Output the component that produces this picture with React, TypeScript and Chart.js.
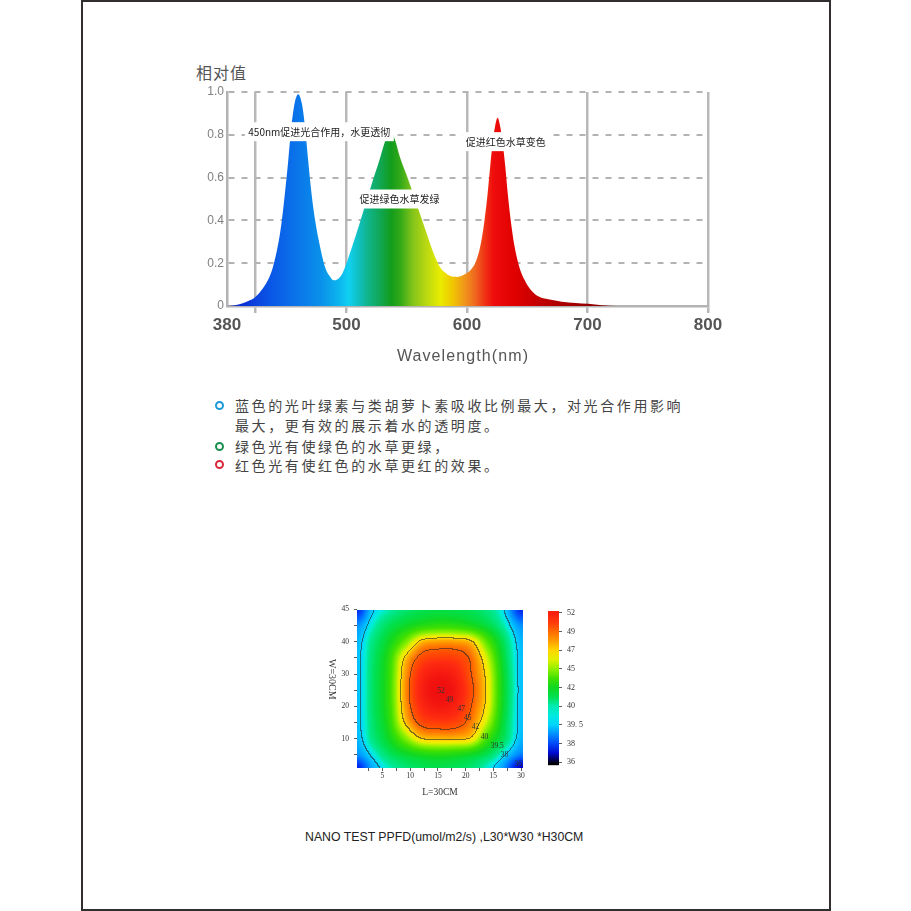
import React, { useEffect, useRef } from 'react';
import { Chart, registerables, LinearScale } from 'chart.js';

Chart.register(...registerables);

// ---------------- Spectrum data ----------------
const wavelengths = [380, 388, 395, 402, 407, 414, 421, 426, 431, 434.5, 438, 441.5, 444.7, 448, 451.5, 455, 458.3, 461.5, 465, 468.5, 472, 478.6, 483, 487.2, 491, 495.6, 500, 504.8, 510, 516, 522, 527.2, 532, 536, 540, 544.1, 550, 555.3, 561, 566.5, 572, 577.8, 582, 586.1, 591.8, 597, 603, 607.5, 611.4, 614.5, 617, 619.2, 621.2, 623.3, 625.4, 627.5, 629.6, 631.8, 633.9, 636.5, 639.4, 643.5, 647.9, 653, 659.1, 667.5, 678.7, 690, 700.5, 712, 724, 800];
const intensity = [0, 0.003, 0.012, 0.025, 0.036, 0.07, 0.12, 0.18, 0.28, 0.38, 0.52, 0.68, 0.84, 0.95, 0.99, 0.95, 0.84, 0.68, 0.52, 0.4, 0.31, 0.18, 0.14, 0.12, 0.125, 0.15, 0.2, 0.28, 0.37, 0.48, 0.59, 0.68, 0.77, 0.82, 0.78, 0.7, 0.61, 0.525, 0.43, 0.34, 0.25, 0.18, 0.155, 0.14, 0.136, 0.145, 0.168, 0.21, 0.29, 0.4, 0.52, 0.65, 0.76, 0.84, 0.88, 0.84, 0.76, 0.65, 0.52, 0.39, 0.28, 0.18, 0.12, 0.075, 0.045, 0.031, 0.02, 0.014, 0.01, 0.004, 0, 0];
const xTickValues = [380, 408, 500, 600, 700, 800];
const xTickLabels = ['380', '', '500', '600', '700', '800'];
const yTickValues = [0, 0.2, 0.4, 0.6, 0.8, 1.0];
const yTickLabels = ['0', '0.2', '0.4', '0.6', '0.8', '1.0'];
const peakNotes = ['450nm促进光合作用，水更透彻', '促进绿色水草发绿', '促进红色水草变色'];
const peakNoteWavelengths = [472.7, 544, 632.2];
const peakNoteValues = [0.8145, 0.5, 0.768];

// spectrum fill colour stops (style)
const spectrumStopWavelengths = [380, 400, 425, 450, 475, 492, 502, 510, 518, 527, 537, 545, 555, 566, 578, 588, 597, 606, 614, 622, 640, 660, 690, 730];
const spectrumStopColors = ['#0a22c8', '#0a36d8', '#0a58e6', '#0a74ea', '#0a92ea', '#0cb4ee', '#10d0f2', '#10c0c0', '#10b488', '#10a85a', '#139c1c', '#34aa18', '#84c41a', '#b8d812', '#eaec00', '#f0c600', '#f09a1a', '#f06c20', '#f03816', '#ef0c0c', '#e00000', '#c20000', '#a00000', '#800000'];

// ---------------- Heatmap data ----------------
const heatX = [0.5, 3, 6, 9, 12, 15, 18, 21, 24, 27, 30];
const heatY = [50, 45, 40, 35, 30, 25, 20, 15, 10, 5, 1];
const heatRow50 = [37.6, 39.3, 40.0, 40.6, 41.0, 41.2, 41.1, 40.9, 40.4, 39.5, 37.6];
const heatRow45 = [38.8, 39.8, 40.9, 41.8, 42.6, 43.0, 42.9, 42.3, 41.3, 40.0, 38.8];
const heatRow40 = [39.2, 40.3, 41.8, 44.3, 47.3, 47.9, 47.9, 47.2, 43.8, 40.8, 39.2];
const heatRow35 = [39.3, 40.5, 42.6, 47.0, 49.8, 50.4, 50.3, 49.0, 45.6, 41.2, 39.3];
const heatRow30 = [39.3, 40.6, 42.8, 47.8, 51.2, 52.4, 51.8, 49.4, 46.4, 41.5, 39.3];
const heatRow25 = [39.3, 40.6, 42.9, 48.0, 51.8, 53.2, 52.5, 49.8, 46.6, 41.6, 39.3];
const heatRow20 = [39.3, 40.6, 42.8, 47.8, 51.2, 52.4, 51.8, 49.4, 46.4, 41.5, 39.3];
const heatRow15 = [39.3, 40.5, 42.5, 47.0, 49.8, 50.4, 50.2, 48.6, 45.4, 41.2, 39.3];
const heatRow10 = [39.2, 40.3, 41.8, 44.5, 47.0, 47.4, 47.4, 46.8, 43.3, 40.8, 39.2];
const heatRow5 = [38.8, 39.6, 40.7, 41.6, 42.3, 42.6, 42.4, 41.9, 40.9, 39.6, 38.6];
const heatRow1 = [37.5, 39.0, 39.9, 40.5, 40.9, 41.1, 40.9, 40.6, 39.8, 38.8, 36.8];
const heatValues = [heatRow50, heatRow45, heatRow40, heatRow35, heatRow30, heatRow25, heatRow20, heatRow15, heatRow10, heatRow5, heatRow1];
const heatXTicks = [2.5, 5, 7.5, 10, 12.5, 15, 17.5, 20, 22.5, 25, 27.5, 30];
const heatXLabelValues = [5, 10, 15, 20, 25, 30];
const heatXLabels = ['5', '10', '15', '20', '15', '30'];
const heatYTicks = [5, 10, 15, 20, 25, 30, 35, 40, 45, 50];
const heatYLabelValues = [10, 20, 30, 40, 50];
const heatYLabels = ['10', '20', '30', '40', '45'];
const contourLevels = [39.5, 47, 49.3];
const contourLabels = ['52', '49', '47', '45', '42', '40', '39.5', '38', '36'];
const contourLabelX = [15.55, 17.1, 19.2, 20.4, 21.8, 23.4, 25.7, 27.0, 29.5];
const contourLabelY = [24.8, 22.0, 19.2, 16.3, 13.5, 10.6, 7.7, 4.9, 2.1];
const colorbarValues = [36, 38, 39.5, 40, 42, 45, 47, 49, 52];
const colorbarLabels = ['36', '38', '39. 5', '40', '42', '45', '47', '49', '52'];

// colour map (style)
const heatStopValues = [35.8, 36.2, 36.8, 37.6, 38.3, 39.0, 39.5, 39.8, 40.2, 41.0, 42.0, 43.5, 45.0, 46.0, 46.8, 47.5, 48.5, 49.5, 51.0, 53.0];
const heatStopColors = ['#000000', '#000040', '#0000c8', '#0028ee', '#0060ff', '#00a4ff', '#00d4ff', '#00eed8', '#00e890', '#00e050', '#10d820', '#40e000', '#90f000', '#e0f000', '#ffe400', '#ffb400', '#ff8400', '#ff5400', '#ff2c10', '#f01010'];

const hexToRgb = (h: string) => [parseInt(h.slice(1, 3), 16), parseInt(h.slice(3, 5), 16), parseInt(h.slice(5, 7), 16)];
const heatStopRgb = heatStopColors.map(hexToRgb);
const colormap = (v: number) => {
  const n = heatStopValues.length;
  if (v <= heatStopValues[0]) return heatStopRgb[0];
  if (v >= heatStopValues[n - 1]) return heatStopRgb[n - 1];
  let i = 0;
  while (i < n - 2 && v > heatStopValues[i + 1]) i++;
  const t = (v - heatStopValues[i]) / (heatStopValues[i + 1] - heatStopValues[i]);
  const a = heatStopRgb[i], b = heatStopRgb[i + 1];
  return [a[0] + (b[0] - a[0]) * t, a[1] + (b[1] - a[1]) * t, a[2] + (b[2] - a[2]) * t];
};
const colormapCss = (v: number) => {
  const c = colormap(v);
  return `rgb(${Math.round(c[0])},${Math.round(c[1])},${Math.round(c[2])})`;
};

// ---------------- Piecewise wavelength scale ----------------
const SPLIT = 500;
const LOW_RATIO = 0.8266;
const warp = (w: number) => (w >= SPLIT ? w : SPLIT - (SPLIT - w) * LOW_RATIO);
const unwarp = (u: number) => (u >= SPLIT ? u : SPLIT - (SPLIT - u) / LOW_RATIO);

class SpectrumScale extends LinearScale {
  static id = 'spectrum';
  getPixelForValue(value: number) {
    const u0 = warp(this.min), u1 = warp(this.max);
    return this.left + ((warp(value) - u0) / (u1 - u0)) * this.width;
  }
  getValueForPixel(pixel: number) {
    const u0 = warp(this.min), u1 = warp(this.max);
    return unwarp(u0 + ((pixel - this.left) / this.width) * (u1 - u0));
  }
}
Chart.register(SpectrumScale);

const peakNotesPlugin = {
  id: 'peakNotes',
  afterDatasetsDraw(chart: any) {
    const { ctx, scales } = chart;
    ctx.save();
    ctx.font = '10px "Noto Sans CJK SC", sans-serif';
    ctx.textAlign = 'center';
    ctx.textBaseline = 'middle';
    peakNotes.forEach((t, i) => {
      const px = scales.x.getPixelForValue(peakNoteWavelengths[i]);
      const py = scales.y.getPixelForValue(peakNoteValues[i]);
      const w = ctx.measureText(t).width + 7;
      ctx.fillStyle = '#ffffff';
      ctx.fillRect(px - w / 2, py - 9.5, w, 19);
      ctx.fillStyle = '#222222';
      ctx.fillText(t, px, py + 0.5);
    });
    ctx.restore();
  },
};

// ---------------- Heatmap helpers ----------------
const toIndex = (arr: number[], v: number) => {
  const n = arr.length;
  for (let i = 0; i < n - 1; i++) {
    const a = arr[i], b = arr[i + 1];
    const asc = b > a;
    const inSeg = asc ? v <= b : v >= b;
    if (inSeg || i === n - 2) {
      const t = Math.max(0, Math.min(1, (v - a) / (b - a)));
      return i + t;
    }
  }
  return n - 1;
};
const cr = (p0: number, p1: number, p2: number, p3: number, t: number) =>
  0.5 * (2 * p1 + (-p0 + p2) * t + (2 * p0 - 5 * p1 + 4 * p2 - p3) * t * t + (-p0 + 3 * p1 - 3 * p2 + p3) * t * t * t);
const sampleHeat = (fx: number, fy: number) => {
  const cols = heatX.length, rows = heatY.length;
  const ci = (k: number) => Math.max(0, Math.min(cols - 1, k));
  const ri = (k: number) => Math.max(0, Math.min(rows - 1, k));
  const i = Math.min(Math.floor(fx), cols - 2), tx = fx - i;
  const j = Math.min(Math.floor(fy), rows - 2), ty = fy - j;
  const rowAt = (r: number) => {
    const row = heatValues[ri(r)];
    return cr(row[ci(i - 1)], row[ci(i)], row[ci(i + 1)], row[ci(i + 2)], tx);
  };
  return cr(rowAt(j - 1), rowAt(j), rowAt(j + 1), rowAt(j + 2), ty);
};

const heatPlugin = {
  id: 'heatField',
  beforeDatasetsDraw(chart: any) {
    const { ctx, chartArea: a, scales } = chart;
    const left = Math.round(a.left), top = Math.round(a.top);
    const W = Math.round(a.right) - left, H = Math.round(a.bottom) - top;
    const vals = new Float32Array(W * H);
    for (let py = 0; py < H; py++) {
      const fy = toIndex(heatY, scales.y.getValueForPixel(top + py + 0.5));
      for (let px = 0; px < W; px++) {
        const fx = toIndex(heatX, scales.x.getValueForPixel(left + px + 0.5));
        vals[py * W + px] = sampleHeat(fx, fy);
      }
    }
    const off = document.createElement('canvas');
    off.width = W;
    off.height = H;
    const octx = off.getContext('2d')!;
    const img = octx.createImageData(W, H);
    for (let py = 0; py < H; py++) {
      for (let px = 0; px < W; px++) {
        const k = py * W + px;
        const v = vals[k];
        let c = colormap(v);
        const vr = px < W - 1 ? vals[k + 1] : v;
        const vd = py < H - 1 ? vals[k + W] : v;
        let line = false;
        for (const L of contourLevels) {
          if ((v - L) * (vr - L) < 0 || (v - L) * (vd - L) < 0) line = true;
        }
        if (line) c = [c[0] * 0.4 + 40 * 0.6, c[1] * 0.4 + 40 * 0.6, c[2] * 0.4 + 40 * 0.6];
        img.data[k * 4] = c[0];
        img.data[k * 4 + 1] = c[1];
        img.data[k * 4 + 2] = c[2];
        img.data[k * 4 + 3] = 255;
      }
    }
    octx.putImageData(img, 0, 0);
    ctx.drawImage(off, left, top);
  },
  afterDatasetsDraw(chart: any) {
    const { ctx, scales } = chart;
    ctx.save();
    ctx.font = '7.5px "Liberation Serif", serif';
    ctx.fillStyle = '#333';
    ctx.textAlign = 'center';
    ctx.textBaseline = 'middle';
    contourLabels.forEach((t, i) => {
      ctx.fillText(t, scales.x.getPixelForValue(contourLabelX[i]), scales.y.getPixelForValue(contourLabelY[i]));
    });
    ctx.restore();
  },
};

const colorbarPlugin = {
  id: 'colorbarFill',
  beforeDatasetsDraw(chart: any) {
    const { ctx, chartArea: a, scales } = chart;
    const span = a.bottom - a.top;
    const pos = (px: number) => Math.max(0, Math.min(1, (a.bottom - px) / span));
    const g = ctx.createLinearGradient(0, a.bottom, 0, a.top);
    g.addColorStop(0, '#000000');
    g.addColorStop(pos(scales.y.getPixelForValue(-0.06)), '#000008');
    colorbarValues.forEach((v, i) => {
      g.addColorStop(pos(scales.y.getPixelForValue(i)), colormapCss(v));
      if (i < colorbarValues.length - 1) {
        g.addColorStop(pos(scales.y.getPixelForValue(i + 0.5)), colormapCss((v + colorbarValues[i + 1]) / 2));
      }
    });
    g.addColorStop(1, colormapCss(colorbarValues[colorbarValues.length - 1]));
    ctx.save();
    ctx.fillStyle = g;
    ctx.fillRect(a.left, a.top, a.right - a.left, span);
    ctx.restore();
  },
};

const serif = '"Liberation Serif", "Times New Roman", serif';

export default function App() {
  const specRef = useRef<HTMLCanvasElement>(null);
  const heatRef = useRef<HTMLCanvasElement>(null);
  const barRef = useRef<HTMLCanvasElement>(null);

  useEffect(() => {
    const spec = new Chart(specRef.current!, {
      type: 'line',
      data: {
        datasets: [
          {
            data: wavelengths.map((w, i) => ({ x: w, y: intensity[i] })),
            fill: 'origin',
            backgroundColor: (c: any) => {
              const chart = c.chart;
              if (!chart.chartArea) return 'rgba(0,0,0,0)';
              const xs = chart.scales.x;
              const p0 = xs.getPixelForValue(380), p1 = xs.getPixelForValue(800);
              const g = chart.ctx.createLinearGradient(p0, 0, p1, 0);
              spectrumStopWavelengths.forEach((w, i) => {
                g.addColorStop((xs.getPixelForValue(w) - p0) / (p1 - p0), spectrumStopColors[i]);
              });
              return g;
            },
            borderColor: 'rgba(0,0,0,0)',
            borderWidth: 0,
            pointRadius: 0,
            cubicInterpolationMode: 'monotone',
          } as any,
        ],
      },
      options: {
        responsive: false,
        animation: false,
        layout: { padding: { top: 32, right: 32, left: 0, bottom: 0 } },
        plugins: { legend: { display: false }, tooltip: { enabled: false } },
        scales: {
          x: {
            type: 'spectrum' as any,
            min: 380,
            max: 800,
            bounds: 'data',
            afterBuildTicks: (s: any) => {
              s.ticks = xTickValues.map((v) => ({ value: v }));
            },
            afterFit: (s: any) => {
              s.height = 74;
            },
            grid: {
              color: (c: any) => (c.tick && c.tick.value === 380 ? 'rgba(0,0,0,0)' : '#b8b8b8'),
              lineWidth: 2.5,
              drawTicks: true,
              tickLength: 7,
            },
            border: { display: true, color: '#b3b3b3', width: 2.5 },
            ticks: {
              autoSkip: false,
              maxRotation: 0,
              padding: 2,
              color: '#555',
              font: { family: '"Liberation Sans", Arial, sans-serif', size: 17, weight: 'bold' },
              callback: (v: any) => {
                const k = xTickValues.indexOf(v);
                return k >= 0 ? xTickLabels[k] : '';
              },
            },
          } as any,
          y: {
            min: 0,
            max: 1,
            bounds: 'data',
            afterBuildTicks: (s: any) => {
              s.ticks = yTickValues.map((v) => ({ value: v }));
            },
            afterFit: (s: any) => {
              s.width = 47;
            },
            grid: { color: '#b3b3b3', lineWidth: 2, drawTicks: false },
            border: { display: true, color: '#b3b3b3', width: 2.5, dash: [6, 7] },
            ticks: {
              padding: 3,
              color: '#808080',
              font: { family: '"Liberation Sans", Arial, sans-serif', size: 12 },
              callback: (v: any) => {
                const k = yTickValues.indexOf(v);
                return k >= 0 ? yTickLabels[k] : '';
              },
            },
          } as any,
        },
      },
      plugins: [peakNotesPlugin],
    });

    const tickFont = { family: serif, size: 7.5 };
    const heat = new Chart(heatRef.current!, {
      type: 'scatter',
      data: { datasets: [] },
      options: {
        responsive: false,
        animation: false,
        layout: { padding: { top: 9, right: 17, left: 0, bottom: 0 } },
        plugins: { legend: { display: false }, tooltip: { enabled: false } },
        scales: {
          x: {
            type: 'linear',
            min: 0.4,
            max: 30.35,
            bounds: 'data',
            afterBuildTicks: (s: any) => {
              s.ticks = heatXTicks.map((v) => ({ value: v }));
            },
            afterFit: (s: any) => {
              s.height = 37;
            },
            grid: { drawOnChartArea: false, drawTicks: true, tickLength: 3, color: '#333', lineWidth: 0.8 },
            border: { display: false },
            ticks: {
              autoSkip: false,
              maxRotation: 0,
              padding: 1,
              color: '#333',
              font: tickFont,
              callback: (v: any) => {
                const k = heatXLabelValues.indexOf(v);
                return k >= 0 ? heatXLabels[k] : '';
              },
            },
            title: { display: true, text: 'L=30CM', color: '#333', font: { family: serif, size: 9.5 }, padding: { top: 0, bottom: 7 } },
          } as any,
          y: {
            type: 'linear',
            min: 0.9,
            max: 50,
            bounds: 'data',
            afterBuildTicks: (s: any) => {
              s.ticks = heatYTicks.map((v) => ({ value: v }));
            },
            afterFit: (s: any) => {
              s.width = 37;
            },
            grid: { drawOnChartArea: false, drawTicks: true, tickLength: 3, color: '#333', lineWidth: 0.8 },
            border: { display: false },
            ticks: {
              autoSkip: false,
              padding: 5,
              color: '#333',
              font: tickFont,
              callback: (v: any) => {
                const k = heatYLabelValues.indexOf(v);
                return k >= 0 ? heatYLabels[k] : '';
              },
            },
          } as any,
        },
      },
      plugins: [heatPlugin],
    });

    const bar = new Chart(barRef.current!, {
      type: 'scatter',
      data: { datasets: [] },
      options: {
        responsive: false,
        animation: false,
        layout: { padding: { top: 11, right: 0, left: 8, bottom: 7 } },
        plugins: { legend: { display: false }, tooltip: { enabled: false } },
        scales: {
          x: { display: false, min: 0, max: 1 },
          y: {
            type: 'linear',
            position: 'right',
            min: -0.158,
            max: 8.105,
            bounds: 'data',
            afterBuildTicks: (s: any) => {
              s.ticks = colorbarValues.map((_, i) => ({ value: i }));
            },
            afterFit: (s: any) => {
              s.width = 41;
            },
            grid: { drawOnChartArea: false, drawTicks: true, tickLength: 3, color: '#333', lineWidth: 0.8 },
            border: { display: false },
            ticks: {
              autoSkip: false,
              padding: 5,
              color: '#333',
              font: { family: serif, size: 8 },
              callback: (v: any) => colorbarLabels[v] ?? '',
            },
          } as any,
        },
      },
      plugins: [colorbarPlugin],
    });

    return () => {
      spec.destroy();
      heat.destroy();
      bar.destroy();
    };
  }, []);

  const cjk = '"Noto Sans CJK SC", sans-serif';
  const legendLines = [
    { text: '蓝色的光叶绿素与类胡萝卜素吸收比例最大，对光合作用影响', cy: 405.3, ring: '#1a9ad8' },
    { text: '最大，更有效的展示着水的透明度。', cy: 425, ring: '' },
    { text: '绿色光有使绿色的水草更绿，', cy: 446, ring: '#1a9050' },
    { text: '红色光有使红色的水草更红的效果。', cy: 464.5, ring: '#d8283a' },
  ];

  return (
    <div style={{ position: 'absolute', left: 0, top: 0, width: 911, height: 911, background: '#fff', overflow: 'hidden', fontFamily: cjk }}>
      <div style={{ position: 'absolute', left: 81, top: 0, width: 750, height: 911, border: '2.5px solid #332e2e', boxSizing: 'border-box' }} />
      <div style={{ position: 'absolute', left: 196, top: 61, fontSize: 16, lineHeight: '22px', letterSpacing: 1, color: '#555', whiteSpace: 'nowrap' }}>相对值</div>
      <canvas ref={specRef} width={560} height={320} style={{ position: 'absolute', left: 180, top: 60 }} />
      <div style={{ position: 'absolute', left: 363, top: 345, width: 200, textAlign: 'center', fontFamily: '"Liberation Sans", Arial, sans-serif', fontSize: 16, lineHeight: '22px', letterSpacing: 1.1, color: '#555', whiteSpace: 'nowrap' }}>Wavelength(nm)</div>
      {legendLines.map((l, i) => (
        <React.Fragment key={i}>
          {l.ring ? (
            <div style={{ position: 'absolute', left: 214.5, top: l.cy - 4.5, width: 9, height: 9, borderRadius: '50%', border: `2px solid ${l.ring}`, boxSizing: 'border-box' }} />
          ) : null}
          <div style={{ position: 'absolute', left: 235, top: l.cy - 10, fontSize: 14, lineHeight: '20px', letterSpacing: 2.6, color: '#444', whiteSpace: 'nowrap' }}>{l.text}</div>
        </React.Fragment>
      ))}
      <canvas ref={heatRef} width={220} height={205} style={{ position: 'absolute', left: 320, top: 600 }} />
      <canvas ref={barRef} width={60} height={175} style={{ position: 'absolute', left: 540, top: 600 }} />
      <div style={{ position: 'absolute', left: 325.5, top: 659, writingMode: 'vertical-rl', fontFamily: serif, fontSize: 10, lineHeight: '12px', color: '#333', whiteSpace: 'nowrap' }}>W=30CM</div>
      <div style={{ position: 'absolute', left: 305, top: 828.7, fontFamily: '"Liberation Sans", Arial, sans-serif', fontSize: 12.3, lineHeight: '16px', color: '#222', whiteSpace: 'nowrap' }}>NANO TEST PPFD(umol/m2/s) ,L30*W30 *H30CM</div>
    </div>
  );
}
